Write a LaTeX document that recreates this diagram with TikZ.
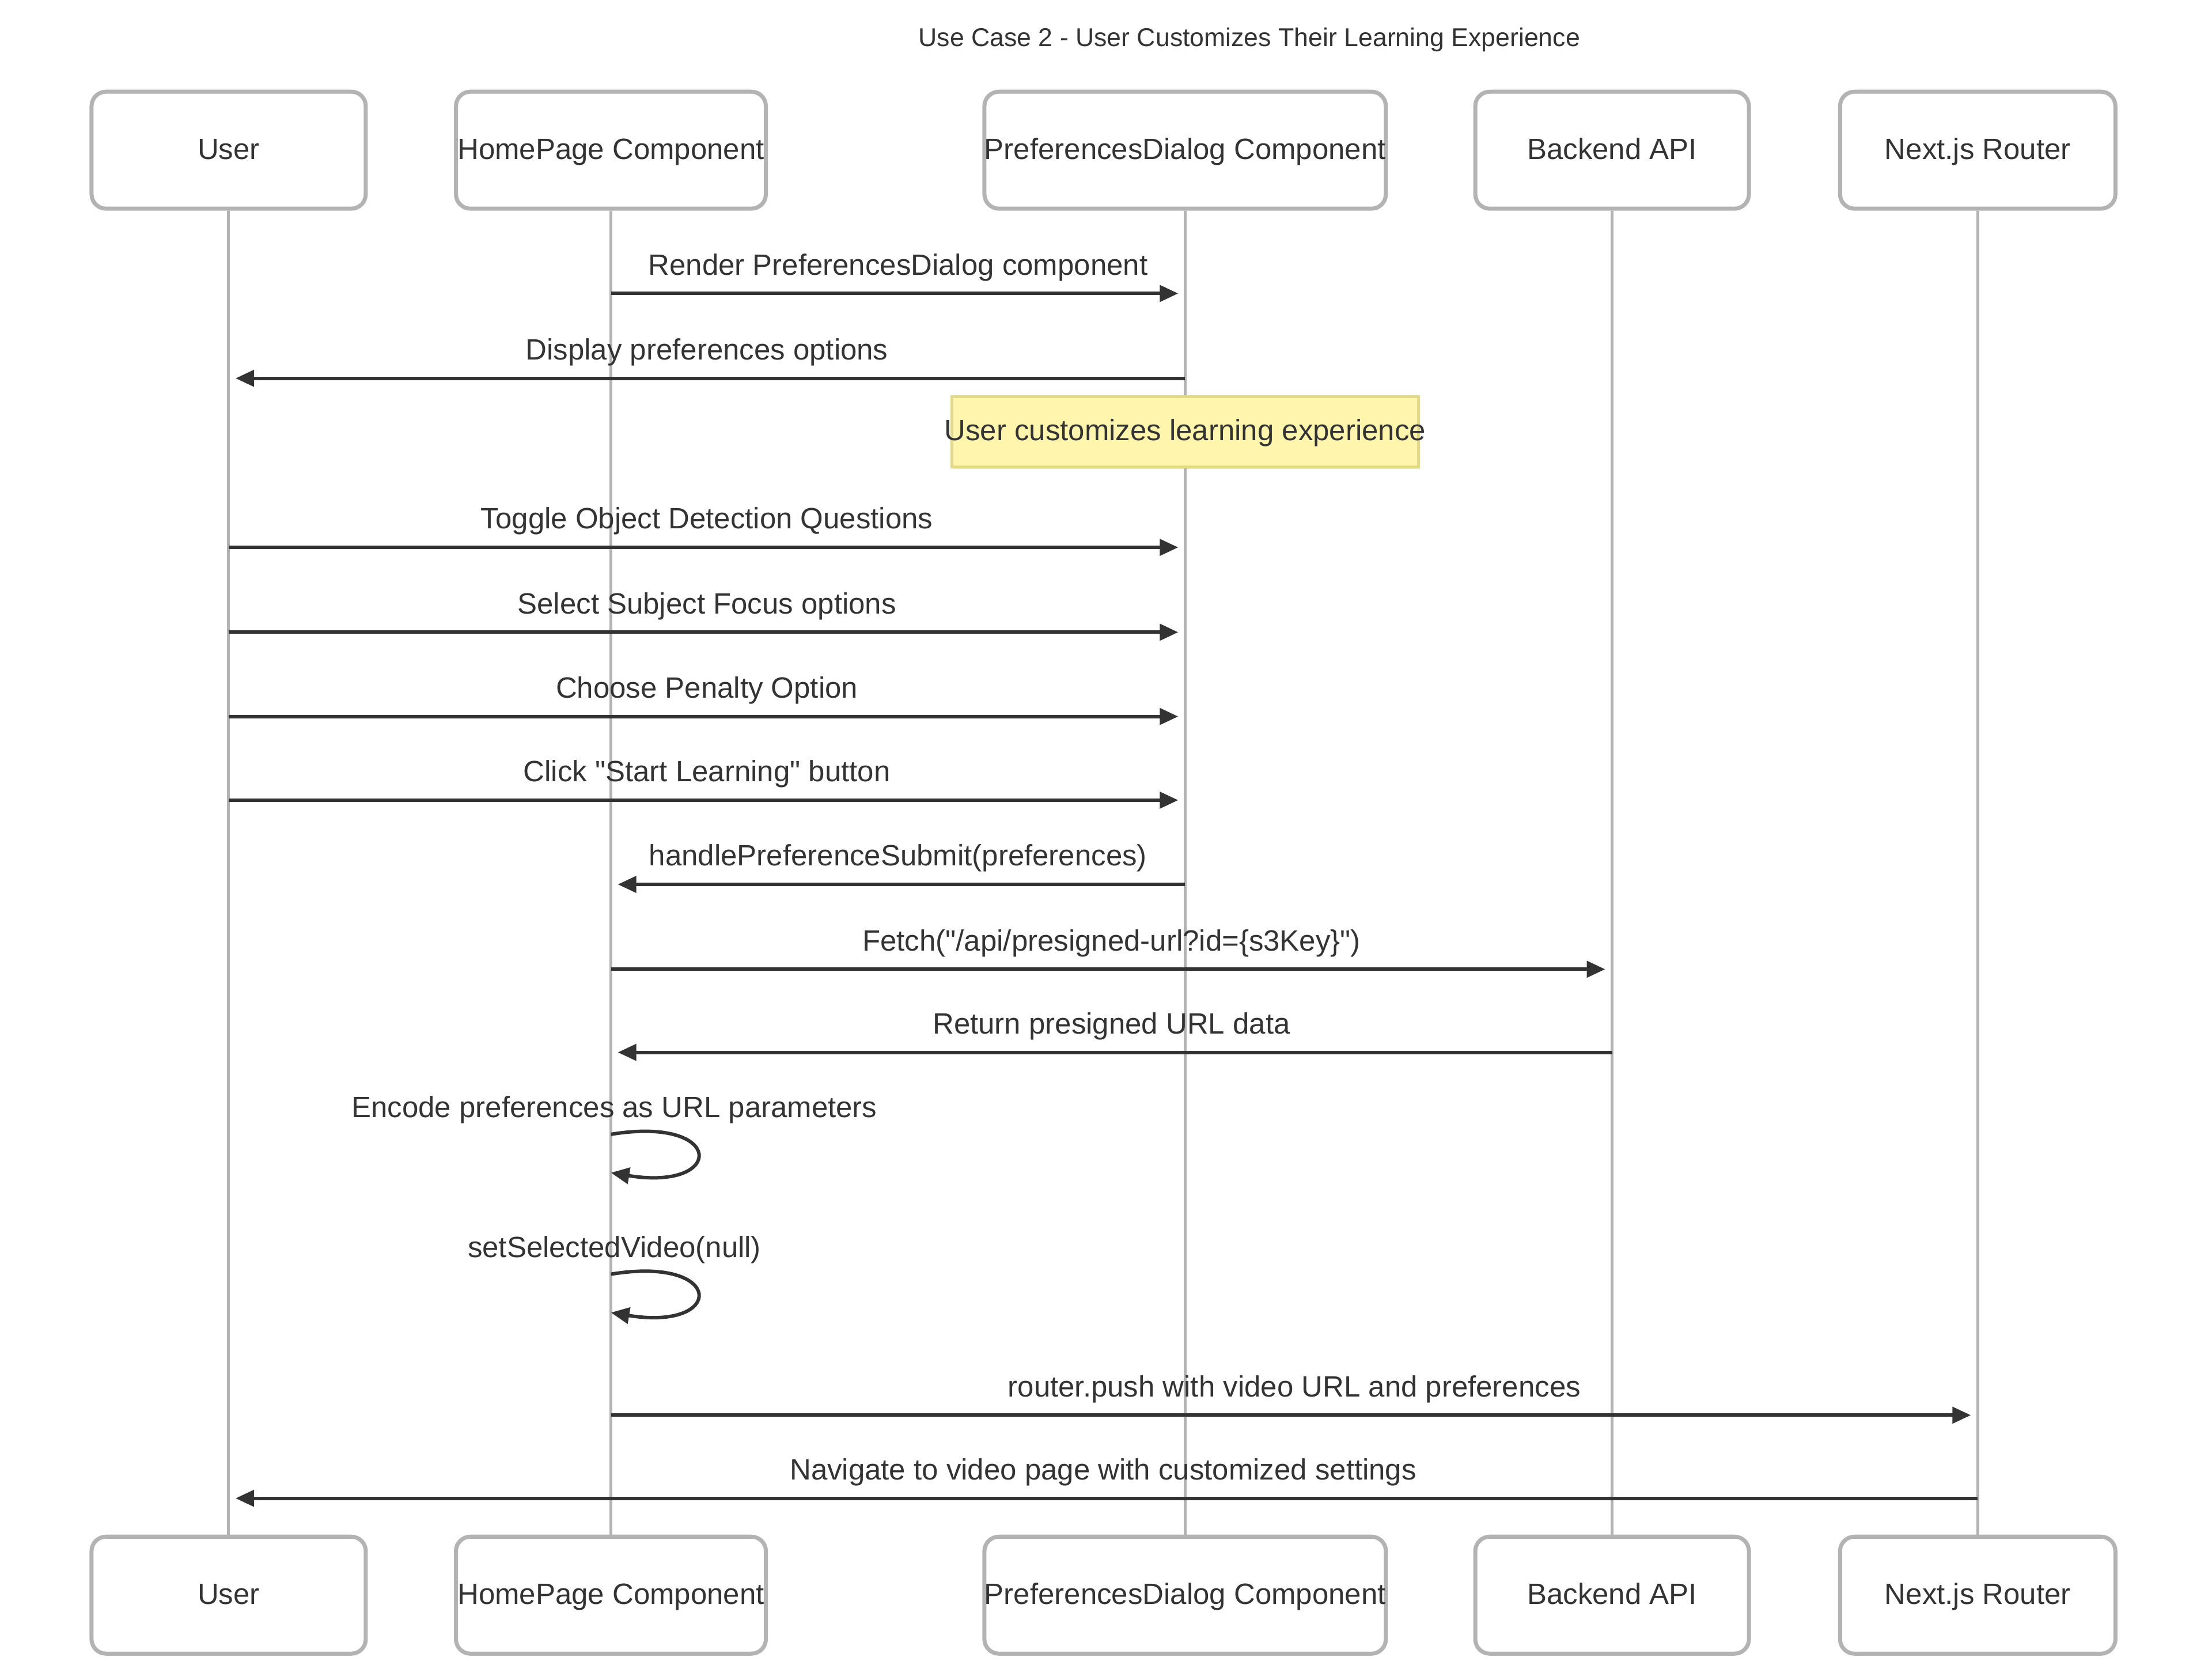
\documentclass[tikz,border=0pt]{standalone}
\usepackage{fontspec}
\setmainfont{Liberation Sans}
\usetikzlibrary{arrows.meta, shadows}
\definecolor{ink}{HTML}{333333}
\definecolor{lifegray}{HTML}{B3B3B3}
\definecolor{notefill}{HTML}{FFF5AD}
\definecolor{noteline}{HTML}{E3D98C}
\tikzstyle{actor} = [draw=lifegray, line width=0.07cm, rounded corners=0.25cm, fill=white, minimum height=2.03cm, inner sep=0pt, text=ink, text height=0.95em, text depth=0.05em]
\tikzstyle{life} = [draw=lifegray, line width=0.05cm]
\tikzstyle{msg} = [draw=ink, line width=0.06cm, -{Triangle[length=0.32cm, width=0.28cm]}, shorten >=0.12cm]
\tikzstyle{lbl} = [midway, yshift=0.41cm, text=ink, text height=0.75em, text depth=0.25em, inner sep=0pt]
\tikzstyle{looplbl} = [xshift=0.06cm, yshift=0.38cm, text=ink, text height=0.75em, text depth=0.25em, inner sep=0pt]
\tikzstyle{note} = [draw=noteline, fill=notefill, line width=0.05cm, minimum width=8.1cm, minimum height=1.22cm, inner sep=0pt, text=ink, text height=0.95em, text depth=0.05em, drop shadow={shadow xshift=0.03cm, shadow yshift=-0.04cm, opacity=0.18}]

\begin{document}
\begin{tikzpicture}[x=0.00995cm, y=-0.00995cm, font=\fontsize{14.5}{17}\selectfont, >=latex]
    \fill[white] (0cm,0cm) rectangle (38.4cm,-29.15cm);
    \useasboundingbox (0cm,0cm) rectangle (38.4cm,-29.15cm);
    \node [text=ink, font=\fontsize{12.7}{15}\selectfont] (title) at (2180,69) {Use Case 2 - User Customizes Their Learning Experience};
    % participants
    \node [actor, minimum width=4.76cm] (user) at (399,262) {User};
    \node [actor, minimum width=5.38cm] (home) at (1066,262) {HomePage Component};
    \node [actor, minimum width=6.89cm] (dialog) at (2068,262) {PreferencesDialog Component};
    \node [actor, minimum width=4.75cm] (backend) at (2813,262) {Backend API};
    \node [actor, minimum width=4.78cm] (router) at (3451,262) {Next.js Router};
    \node [actor, minimum width=4.76cm] (userB) at (399,2783) {User};
    \node [actor, minimum width=5.38cm] (homeB) at (1066,2783) {HomePage Component};
    \node [actor, minimum width=6.89cm] (dialogB) at (2068,2783) {PreferencesDialog Component};
    \node [actor, minimum width=4.75cm] (backendB) at (2813,2783) {Backend API};
    \node [actor, minimum width=4.78cm] (routerB) at (3451,2783) {Next.js Router};
    % lifelines
    \draw [life] (user) -- (userB);
    \draw [life] (home) -- (homeB);
    \draw [life] (dialog) -- (dialogB);
    \draw [life] (backend) -- (backendB);
    \draw [life] (router) -- (routerB);
    % message rows
    \coordinate (render) at (0,512);
    \coordinate (display) at (0,660);
    \coordinate (custom) at (0,753);
    \coordinate (toggle) at (0,955);
    \coordinate (select) at (0,1103);
    \coordinate (penalty) at (0,1250);
    \coordinate (start) at (0,1396);
    \coordinate (submit) at (0,1543);
    \coordinate (fetch) at (0,1691);
    \coordinate (return) at (0,1836);
    \coordinate (encode) at (0,1979);
    \coordinate (encodeEnd) at (0,2046);
    \coordinate (reset) at (0,2223);
    \coordinate (resetEnd) at (0,2290);
    \coordinate (push) at (0,2469);
    \coordinate (navigate) at (0,2614);
    \draw [msg] (home |- render) -- node [lbl] {Render PreferencesDialog component} (dialog |- render);
    \draw [msg] (dialog |- display) -- node [lbl] {Display preferences options} (user |- display);
    \node [note] (customNote) at (dialog |- custom) {\makebox[0pt]{User customizes learning experience}};
    \draw [msg] (user |- toggle) -- node [lbl] {Toggle Object Detection Questions} (dialog |- toggle);
    \draw [msg] (user |- select) -- node [lbl] {Select Subject Focus options} (dialog |- select);
    \draw [msg] (user |- penalty) -- node [lbl] {Choose Penalty Option} (dialog |- penalty);
    \draw [msg] (user |- start) -- node [lbl] {Click \textquotedbl Start Learning\textquotedbl{} button} (dialog |- start);
    \draw [msg] (dialog |- submit) -- node [lbl] {handlePreferenceSubmit(preferences)} (home |- submit);
    \draw [msg] (home |- fetch) -- node [lbl] {Fetch(\textquotedbl/api/presigned-url?id=\{s3Key\}\textquotedbl)} (backend |- fetch);
    \draw [msg] (backend |- return) -- node [lbl] {Return presigned URL data} (home |- return);
    \draw [msg, shorten >=0pt] (home |- encode) node [looplbl] {Encode preferences as URL parameters}
        .. controls +(200,-33) and +(200,33) .. (home |- encodeEnd);
    \draw [msg, shorten >=0pt] (home |- reset) node [looplbl] {setSelectedVideo(null)}
        .. controls +(200,-33) and +(200,33) .. (home |- resetEnd);
    \draw [msg] (home |- push) -- node [lbl] {router.push with video URL and preferences} (router |- push);
    \draw [msg] (router |- navigate) -- node [lbl] {Navigate to video page with customized settings} (user |- navigate);
\end{tikzpicture}
\end{document}
